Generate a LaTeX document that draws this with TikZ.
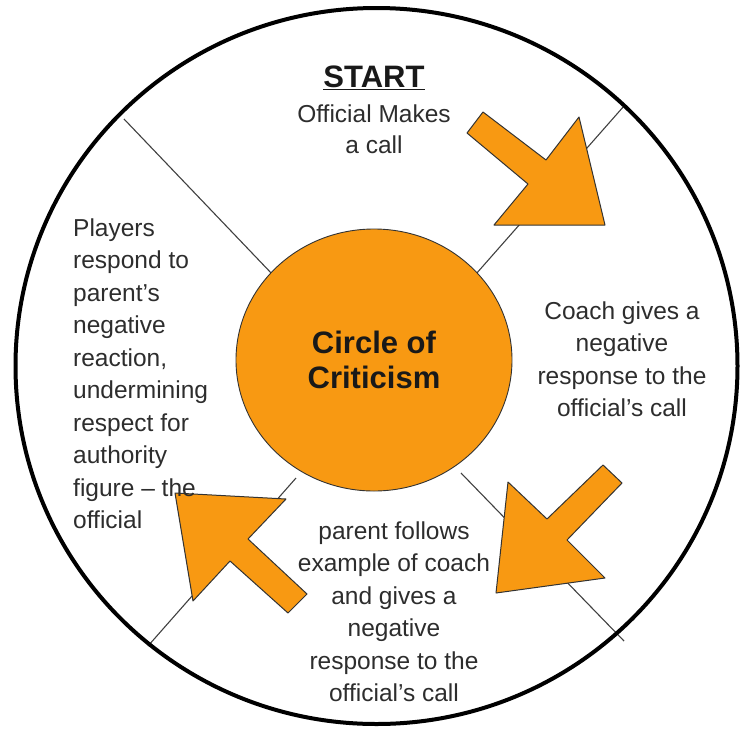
\documentclass[tikz,border=0pt]{standalone}
\usepackage{fontspec}
\setmainfont{Liberation Sans}
\usepackage{xcolor}
\usetikzlibrary{shapes.geometric}
\definecolor{wheelorange}{RGB}{248,153,18}
\definecolor{wheeltext}{RGB}{45,45,45}

\begin{document}
\begin{tikzpicture}[x=1pt,y=-1pt,line join=round,
    spoke/.style={draw=black!75,line width=1.1pt},
    blockarrow/.style={fill=wheelorange,draw=black!80,line width=1pt},
    txt/.style={text=wheeltext,font=\fontsize{24.5}{32.5}\selectfont,inner sep=0pt,anchor=base},
    bigtxt/.style={text=black!90,font=\fontsize{31}{35}\selectfont\bfseries,inner sep=0pt}]
          \useasboundingbox (0,0) rectangle (742,729);
          \coordinate (O) at (376.5,366);
          \coordinate (ULout) at (124,119);
          \coordinate (ULin) at (274,276);
          \coordinate (URout) at (624,106);
          \coordinate (URin) at (476,274);
          \coordinate (LRout) at (624,641);
          \coordinate (LRin) at (461,473);
          \coordinate (LLout) at (148,646);
          \coordinate (LLin) at (296,478);

          \draw[spoke] (ULout) -- (ULin);
          \draw[spoke] (URout) -- (URin);
          \draw[spoke] (LRout) -- (LRin);
          \draw[spoke] (LLout) -- (LLin);
          \draw[line width=4pt] (O) ellipse [x radius=361, y radius=358];

          \node[draw=black!80,line width=0.9pt,fill=wheelorange,ellipse,minimum width=276pt,minimum height=262pt,bigtxt,align=center] (hub) at (374,360) {Circle of\\Criticism};

          \draw[blockarrow] (483,112) -- (546,160) -- (579,117) -- (605,225) -- (494,225) -- (528,184) -- (467,133) -- cycle;
          \draw[blockarrow] (603,465) -- (622,483) -- (567,540) -- (605,578) -- (496,593) -- (508,482) -- (547,519) -- cycle;
          \draw[blockarrow] (307,594) -- (248,539) -- (286,499) -- (175,493) -- (193,601) -- (230,561) -- (288,613) -- cycle;

          \node[bigtxt,anchor=base] (start) at (374,87) {\underline{START}};
          \node[txt,align=center] (call) at (374,153) {Official Makes\\[-1.5pt]a call};
          \node[txt,align=center] (coach) at (622,416.5) {Coach gives a\\negative\\response to the\\official’s call};
          \node[txt,align=center] (parent) at (394,701.5) {parent follows\\example of coach\\and gives a\\negative\\response to the\\official’s call};
          \node[txt,align=left,anchor=base west] (players) at (73,528.5) {Players\\respond to\\parent’s\\negative\\reaction,\\undermining\\respect for\\authority\\figure – the\\official};
        \end{tikzpicture}
\end{document}
